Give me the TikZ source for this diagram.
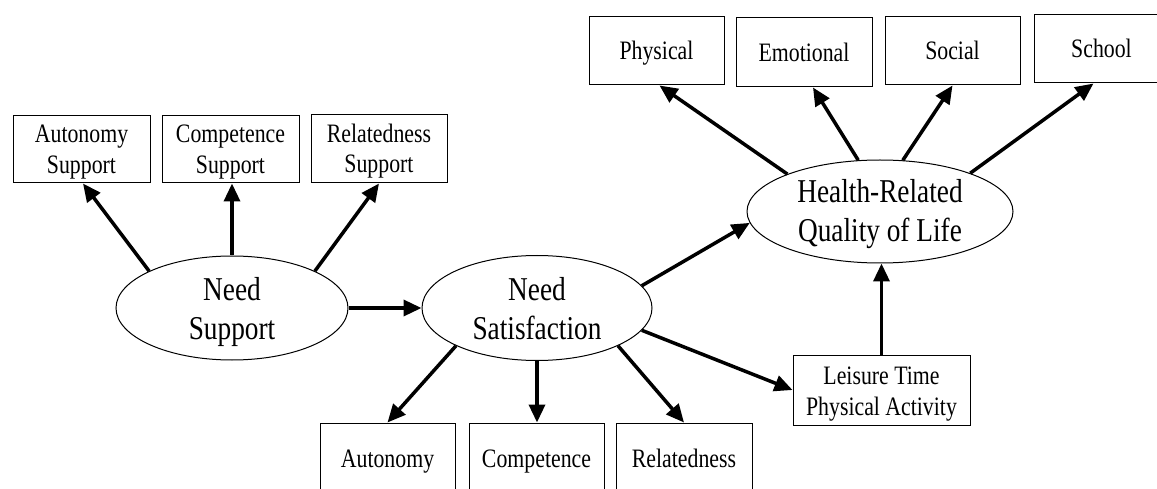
\documentclass[tikz,border=0pt]{standalone}
\usepackage{fontspec}
\setmainfont{Liberation Serif}[FakeStretch=0.82]
\usetikzlibrary{arrows.meta,shapes.geometric,calc}
\begin{document}
\begin{tikzpicture}[x=1pt,y=1pt,
  box/.style={draw,line width=1pt,inner sep=0pt,minimum width=136pt,minimum height=68pt,align=center,font=\fontsize{26.6}{30.7}\selectfont,text height=18pt,text depth=0pt},
  box2/.style={box,text height=48pt,text depth=0pt},
  lat/.style={draw,ellipse,line width=1pt,inner sep=0pt,align=center,font=\fontsize{33.3}{39.5}\selectfont,text height=64pt,text depth=0pt},
  arr/.style={line width=3.5pt,-{Triangle[length=18pt,width=16pt]}}]
\useasboundingbox (0,0) rectangle (1157,488);
\clip (0,0) rectangle (1157,488);
% top-left boxes
\node[box2,minimum width=137pt,minimum height=67pt] (as) at (81.5,338.5) {Autonomy\\Support};
\node[box2,minimum width=137pt,minimum height=67pt] (cs) at (230.5,338.5) {Competence\\Support};
\node[box2] (rs) at (379,339) {Relatedness\\Support};
% top-right boxes
\node[box,minimum width=135pt] (phys) at (656.5,437) {Physical};
\node[box,minimum height=69pt] (emo) at (804,435.5) {Emotional};
\node[box,minimum width=135pt] (soc) at (952.5,437) {Social};
\node[box,minimum width=135pt] (sch) at (1101.5,439) {School};
% ellipses
\node[lat,minimum width=232pt,minimum height=104pt] (ns) at (232,180) {Need\\Support};
\node[lat,minimum width=230pt,minimum height=105pt,text height=63pt] (nsat) at (537,180) {Need\\Satisfaction};
\node[lat,minimum width=266pt,minimum height=103pt,text height=61pt] (hrq) at (880,276.5) {Health-Related\\Quality of Life};
% leisure
\node[box2,minimum width=177pt,minimum height=70pt,text height=50pt] (lt) at (881.5,98) {Leisure Time\\Physical Activity};
% bottom boxes
\node[box,minimum width=135pt,minimum height=70pt] (au) at (387.5,30) {Autonomy};
\node[box,minimum width=135pt,minimum height=70pt] (co) at (536.5,30) {Competence};
\node[box,minimum height=70pt] (re) at (684,30) {Relatedness};
% arrows from Need Support
\draw[arr] (ns.156) -- ($(as.south)+(1.5,0)$);
\draw[arr] (ns.north) -- (ns.north |- cs.south);
\draw[arr] (ns.24) -- (rs.south);
\draw[arr] (ns.east) -- (nsat.west);
% arrows from Need Satisfaction
\draw[arr] (nsat.205.7) -- (au.north);
\draw[arr] (nsat.south) -- (nsat.south |- co.north);
\draw[arr] (nsat.335) -- (re.north);
\draw[arr] (nsat.348) -- (lt.west);
\draw[arr] (nsat.12.6) -- (hrq.185);
% leisure to HRQoL
\draw[arr] (lt.north) -- (lt.north |- hrq.south);
% HRQoL to domains
\draw[arr] (hrq.158) -- ($(phys.south)+(3,0)$);
\draw[arr] (hrq.113) -- ($(emo.south)+(9,0)$);
\draw[arr] (hrq.66) -- (soc.south);
\draw[arr] (hrq.23) -- ($(sch.south)+(-8,0)$);
\end{tikzpicture}
\end{document}
